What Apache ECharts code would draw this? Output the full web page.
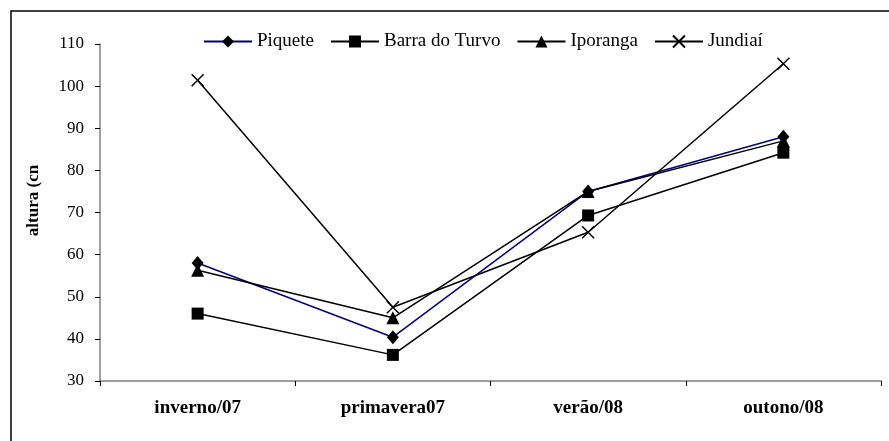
<!DOCTYPE html>
<html>
<head>
<meta charset="utf-8">
<script src="https://cdn.jsdelivr.net/npm/echarts@6/dist/echarts.min.js"></script>
<style>
    html, body { margin: 0; padding: 0; background: #fff; }
    #chart { width: 889px; height: 441px; }
</style>
</head>
<body>
<div id="chart"></div>
<script>
var seasons = ['inverno/07', 'primavera07', 'verão/08', 'outono/08'];
var piquete = [58, 40.4, 75, 88];
var barraDoTurvo = [46, 36.2, 69.3, 84.2];
var iporanga = [56.3, 45, 75, 87];
var jundiai = [101.4, 47.5, 65.3, 105.3];

var crossPath = 'path://M0,0L10,10M10,0L0,10';
var serif = '"Liberation Serif", "DejaVu Serif", serif';

var myChart = echarts.init(document.getElementById('chart'));

function makeSeries(name, data, symbol, size, lineColor) {
    return {
        name: name,
        type: 'line',
        data: data,
        symbol: symbol,
        symbolSize: size,
        showAllSymbol: true,
        animation: false,
        lineStyle: { color: lineColor, width: 1.5 },
        itemStyle: { color: '#000', borderColor: '#000', borderWidth: symbol === crossPath ? 1.5 : 0 }
    };
}

var option = {
    backgroundColor: '#fff',
    animation: false,
    graphic: [{
        type: 'rect',
        shape: { x: 11, y: 11, width: 900, height: 500 },
        style: { fill: 'none', stroke: '#000', lineWidth: 1.5 },
        silent: true
    }],
    legend: {
        top: 27,
        left: 198,
        itemWidth: 48,
        itemHeight: 15,
        itemGap: 16,
        textStyle: { fontFamily: serif, fontSize: 19, color: '#000' },
        data: ['Piquete', 'Barra do Turvo', 'Iporanga', 'Jundiaí']
    },
    grid: { left: 100, right: 8, top: 44, bottom: 60 },
    xAxis: {
        type: 'category',
        data: seasons,
        boundaryGap: true,
        axisLine: { lineStyle: { color: '#808080', width: 1.5 } },
        axisTick: { show: true, length: 5, lineStyle: { color: '#000' } },
        axisLabel: { margin: 18, fontFamily: serif, fontSize: 19, fontWeight: 'bold', color: '#000' }
    },
    yAxis: {
        type: 'value',
        min: 30,
        max: 110,
        interval: 10,
        name: 'altura (cn',
        nameLocation: 'middle',
        nameGap: 58,
        nameTextStyle: { fontFamily: serif, fontSize: 17, fontWeight: 'bold', color: '#000', padding: [0, 0, 0, 24] },
        splitLine: { show: false },
        axisLine: { show: true, lineStyle: { color: '#808080', width: 1.5 } },
        axisTick: { show: true, length: 5, lineStyle: { color: '#000' } },
        axisLabel: { margin: 16, fontFamily: serif, fontSize: 17, color: '#000' }
    },
    series: [
        makeSeries('Piquete', piquete, 'diamond', [12, 14], '#000080'),
        makeSeries('Barra do Turvo', barraDoTurvo, 'rect', 12, '#000'),
        makeSeries('Iporanga', iporanga, 'triangle', 13, '#000'),
        makeSeries('Jundiaí', jundiai, crossPath, 12, '#000')
    ]
};

myChart.setOption(option);
</script>
</body>
</html>
